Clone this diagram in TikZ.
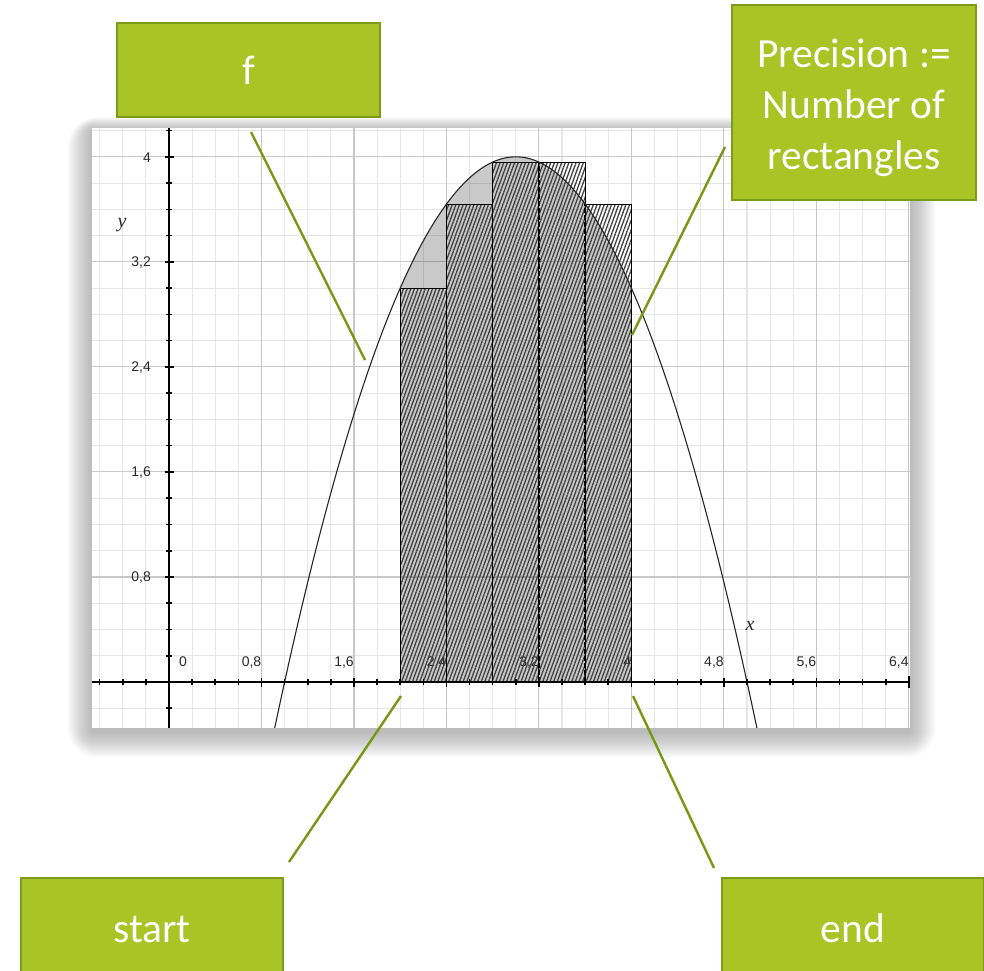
\documentclass[tikz,border=0pt]{standalone}
\usepackage{fontspec}
\setmainfont{Carlito}
\newfontfamily\labfont{Liberation Sans}
\newfontfamily\axfont{Liberation Serif}
\usetikzlibrary{patterns.meta}
\definecolor{boxgreen}{RGB}{169,196,36}
\definecolor{boxedge}{RGB}{126,154,27}
\definecolor{linkgreen}{RGB}{122,150,20}
\definecolor{minorgrid}{RGB}{230,230,230}
\definecolor{majorgrid}{RGB}{200,200,200}
\definecolor{labgray}{RGB}{40,40,40}
\begin{document}
\begin{tikzpicture}[x=1pt,y=-1pt,
  greenbox/.style={draw=boxedge, line width=2.5pt, fill=boxgreen, text=white,
    font=\fontsize{41.5}{51}\selectfont, align=center, inner sep=0pt},
  boxtext/.style={text=white, font=\fontsize{41.5}{51}\selectfont, align=center, inner sep=0pt},
  link/.style={draw=linkgreen, line width=2.4pt},
  ticklab/.style={font=\labfont\fontsize{14}{14}\selectfont, text=labgray, inner sep=0pt},
  axlab/.style={font=\axfont\itshape\fontsize{20}{20}\selectfont, text=labgray, inner sep=0pt},
  hatch/.style={pattern={Lines[angle=70,distance=3.4pt,line width=1.3pt]}, pattern color=black!75},
  ]
\useasboundingbox (0,0) rectangle (984,970);
% soft shadow of the panel
\foreach \i in {1,...,26} {
  \fill[black, opacity=0.012, rounded corners={1.2*\i pt}]
    ({92-0.95*\i},{130-0.5*\i}) rectangle ({910+1.0*\i},{732+1.0*\i});
}
\fill[white] (92,128) rectangle (910,728);
\begin{scope}[shift={(169,682)}, x=115.6pt, y=131.3pt]
  \clip (-0.666,-0.35) rectangle (6.41,4.22);
  % grid
  \foreach \k in {-3,...,32} \draw[minorgrid, line width=1.1pt] ({0.2*\k},-0.35) -- ({0.2*\k},4.22);
  \foreach \k in {-1,...,21} \draw[minorgrid, line width=1.1pt] (-0.666,{0.2*\k}) -- (6.41,{0.2*\k});
  \foreach \k in {0,...,8} \draw[majorgrid, line width=1.1pt] ({0.8*\k},-0.35) -- ({0.8*\k},4.22);
  \foreach \k in {0,...,5} \draw[majorgrid, line width=1.1pt] (-0.666,{0.8*\k}) -- (6.41,{0.8*\k});
  % tick labels
  \node[ticklab, anchor=west] (lx0) at ([shift={(10pt,20pt)}]0,0) {0};
  \foreach \v/\t [count=\n] in {0.8/{0,8},1.6/{1,6},2.4/{2,4},3.2/{3,2},4.8/{4,8},5.6/{5,6},6.4/{6,4}}
    \node[ticklab, anchor=east] (lx\n) at ([shift={(0pt,20pt)}]\v,0) {\t};
  \node[ticklab, anchor=east] (lxf) at ([shift={(0pt,20pt)}]4,0) {4};
  \foreach \v/\t [count=\n] in {0.8/{0,8},1.6/{1,6},2.4/{2,4},3.2/{3,2},4/{4}}
    \node[ticklab, anchor=east] (ly\n) at ([shift={(-18pt,-1pt)}]0,\v) {\t};
  % area under curve
  \fill[black, opacity=0.21] (2,0) -- plot[domain=2:4, samples=60] (\x,{4-(\x-3)^2}) -- (4,0) -- cycle;
  % rectangles (left sums)
  \foreach \a in {2,2.4,2.8,3.2,3.6} {
    \pgfmathsetmacro{\h}{4-(\a-3)^2}
    \pgfmathsetmacro{\b}{\a+0.4}
    \fill[hatch] (\a,0) rectangle (\b,\h);
    \draw[line width=0.9pt] (\a,0) rectangle (\b,\h);
  }
  \foreach \a in {2.4,2.8,3.2,3.6}
    \draw[line width=1.5pt, dash pattern=on 5pt off 2pt] (\a,0) -- (\a,{4-(\a-3)^2});
  % curve
  \draw[line width=1.1pt, black!85] plot[domain=0.85:5.15, samples=120] (\x,{4-(\x-3)^2});
  % axes
  \draw[line width=1.8pt] (-0.666,0) -- (6.41,0);
  \draw[line width=1.8pt] (0,-0.35) -- (0,4.22);
  \foreach \k in {-3,...,32} \draw[line width=1.6pt] ([yshift=-3pt]{0.2*\k},0) -- ([yshift=3pt]{0.2*\k},0);
  \foreach \k in {0,...,8} \draw[line width=1.6pt] ([yshift=-4.5pt]{0.8*\k},0) -- ([yshift=4.5pt]{0.8*\k},0);
  \foreach \k in {-1,...,21} \draw[line width=1.6pt] ([xshift=-3pt]0,{0.2*\k}) -- ([xshift=3pt]0,{0.2*\k});
  \foreach \k in {0,...,5} \draw[line width=1.6pt] ([xshift=-4.5pt]0,{0.8*\k}) -- ([xshift=4.5pt]0,{0.8*\k});
  \draw[line width=1.5pt] ([yshift=-6pt]6.4,0) -- ([yshift=6pt]6.4,0);
\end{scope}
\node[axlab] (ylab) at (122,225) {y};
\node[axlab] (xlab) at (750,626) {x};
% connectors
\coordinate (fA) at (251,132);  \coordinate (fB) at (365,360);
\coordinate (pA) at (725,147);  \coordinate (pB) at (632,335);
\coordinate (sA) at (289,862);  \coordinate (sB) at (401,696);
\coordinate (eA) at (714,868);  \coordinate (eB) at (633,696);
\draw[link] (fA) -- (fB);
\draw[link] (pA) -- (pB);
\draw[link] (sA) -- (sB);
\draw[link] (eA) -- (eB);
% boxes
\node[greenbox, minimum width=263pt, minimum height=94pt] (f) at (248.5,70) {f};
\node[greenbox, minimum width=244pt, minimum height=195pt] (prec) at (854,102.5) {};
\node[boxtext] (precText) at ([yshift=-5pt]prec.center) {Precision :=\\Number of\\rectangles};
\node[greenbox, minimum width=262pt, minimum height=94pt, text height=34pt, text depth=0pt] (start) at (152,925) {start};
\node[greenbox, minimum width=262pt, minimum height=94pt, text height=35pt, text depth=0pt] (end) at (853,925) {end};
\end{tikzpicture}
\end{document}
